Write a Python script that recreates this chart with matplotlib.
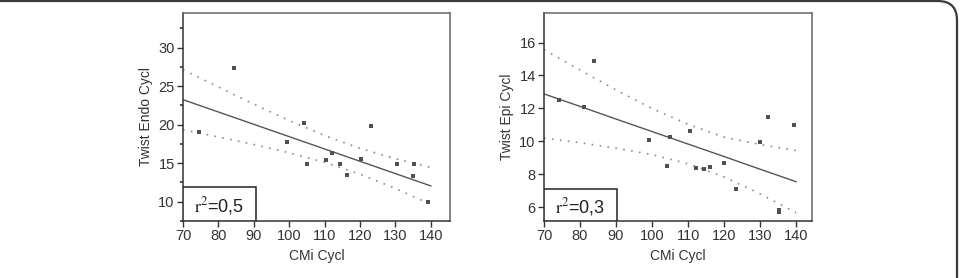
import matplotlib

matplotlib.use("Agg")
import matplotlib.pyplot as plt
from matplotlib.patches import FancyBboxPatch, Rectangle
from matplotlib.ticker import MultipleLocator

plt.rcParams["font.family"] = ["Liberation Sans", "DejaVu Sans"]
plt.rcParams["mathtext.fontset"] = "stix"

# left panel: CMi Cycl vs Twist Endo Cycl
endo_x = [74.5, 84.3, 99.4, 104.3, 105.1, 110.3, 112.1, 114.3, 116.2, 120.2, 123.1, 130.3, 135.2, 135.0, 139.1]
endo_y = [19.05, 27.3, 17.7, 20.2, 14.9, 15.4, 16.3, 14.9, 13.5, 15.5, 19.8, 14.95, 14.95, 13.4, 10.0]

# right panel: CMi Cycl vs Twist Epi Cycl
epi_x = [74.2, 81.1, 83.9, 99.1, 104.1, 105.0, 110.4, 112.2, 114.3, 116.1, 120.1, 123.2, 130.0, 132.1, 139.3, 135.1, 135.2]
epi_y = [12.53, 12.06, 14.9, 10.07, 8.5, 10.25, 10.6, 8.4, 8.3, 8.46, 8.67, 7.09, 9.98, 11.5, 11.0, 5.8, 5.7]

# fit line and 95% band, read at these x positions
band_x = [70, 80, 90, 100, 110, 120, 130, 140]
endo_fit = [23.25, 21.65, 20.05, 18.45, 16.85, 15.25, 13.65, 12.05]
endo_upper = [27.15, 24.89, 22.67, 20.54, 18.59, 16.93, 15.58, 14.45]
endo_lower = [19.35, 18.41, 17.43, 16.36, 15.11, 13.57, 11.72, 9.65]
epi_fit = [12.88, 12.12, 11.35, 10.59, 9.83, 9.07, 8.30, 7.54]
epi_upper = [15.57, 14.33, 13.12, 11.99, 11.03, 10.25, 9.80, 9.43]
epi_lower = [10.19, 9.91, 9.58, 9.19, 8.63, 7.83, 6.80, 5.65]

x_ticks = [70, 80, 90, 100, 110, 120, 130, 140]

W, H = 961, 278
fig = plt.figure(figsize=(W / 100, H / 100), dpi=100)

frame = FancyBboxPatch(
    (-20 / W, -40 / H), (957 + 20) / W, (277 + 40) / H,
    boxstyle="round,pad=0,rounding_size=0.02",
    transform=fig.transFigure, facecolor="none", edgecolor="#3a3a3a", linewidth=1.6,
    mutation_aspect=W / H,
)
fig.patches.append(frame)


def draw_panel(rect, xs, ys, fit, upper, lower, xlim, ylim, ylabel, yticks, minor, r2, box_w, box_h):
    ax = fig.add_axes(rect)
    ax.set_xlim(*xlim)
    ax.set_ylim(*ylim)
    ax.plot(band_x, fit, color="#555555", linewidth=1.0)
    ax.plot(band_x, upper, color="#8a8a8a", linewidth=1.2, linestyle=(0, (1, 3.8)))
    ax.plot(band_x, lower, color="#8a8a8a", linewidth=1.2, linestyle=(0, (1, 3.8)))
    ax.plot(xs, ys, linestyle="none", marker="s", markersize=2.3, color="#505050", markeredgewidth=0)
    ax.set_xticks(x_ticks)
    ax.set_yticks(yticks)
    if minor:
        ax.yaxis.set_minor_locator(MultipleLocator(minor))
        ax.tick_params(axis="y", which="minor", length=2.5, width=1.2, color="#333333")
    ax.tick_params(which="major", direction="out", length=4, width=1, color="#333333",
                   labelsize=10.5, labelcolor="#333333", pad=2)
    for side, spine in ax.spines.items():
        spine.set_color("#333333" if side in ("left", "bottom") else "#666666")
        spine.set_linewidth(1.1)
    ax.set_xlabel("CMi Cycl", fontsize=10, color="#333333", labelpad=4)
    ax.set_ylabel(ylabel, fontsize=10, color="#333333", labelpad=4)
    ax.add_patch(Rectangle((0, 0), box_w, box_h, transform=ax.transAxes,
                           facecolor="white", edgecolor="#222222", linewidth=1.1, zorder=5))
    ax.text(0.04, box_h / 2 - 0.01, r"$\mathrm{r}^2$=" + r2,
            transform=ax.transAxes, fontsize=13, color="#222222", va="center", ha="left", zorder=6)
    return ax


draw_panel([183 / W, 1 - 221 / H, 267 / W, 208 / H], endo_x, endo_y, endo_fit, endo_upper, endo_lower,
           (70, 145.4), (7.5, 34.5), "Twist Endo Cycl", [10, 15, 20, 25, 30], 2.5, "0,5", 0.273, 0.163)
draw_panel([544 / W, 1 - 221 / H, 268 / W, 208 / H], epi_x, epi_y, epi_fit, epi_upper, epi_lower,
           (70, 144.4), (5.15, 17.8), "Twist Epi Cycl", [6, 8, 10, 12, 14, 16], None, "0,3", 0.272, 0.154)

fig.savefig("out.png", dpi=100)
